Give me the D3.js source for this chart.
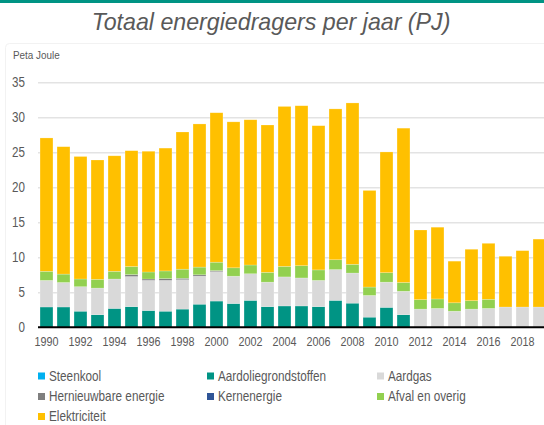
<!DOCTYPE html>
<html><head><meta charset="utf-8">
<script src="https://cdn.jsdelivr.net/npm/d3@7"></script>
<style>
body{margin:0;background:#fff;}
svg{display:block;}
</style></head>
<body><svg id="c" width="544" height="425"></svg>
<script>
const years = d3.range(1990, 2020).map(String);
const xTickLabels = ["1990","1992","1994","1996","1998","2000","2002","2004","2006","2008","2010","2012","2014","2016","2018"];
const yTicks = [0,5,10,15,20,25,30,35];
const seriesNames = ["Steenkool","Aardoliegrondstoffen","Aardgas","Hernieuwbare energie","Kernenergie","Afval en overig","Elektriciteit"];
const seriesColors = ["#00b0f0","#009484","#d9d9d9","#7f7f7f","#2f5597","#92d050","#ffc000"];
const steenkool = new Array(30).fill(0);
const aardolie = [2.9,2.9,2.3,1.8,2.7,2.95,2.4,2.3,2.6,3.3,3.75,3.4,3.85,2.95,3.05,3.05,2.95,3.85,3.45,1.45,2.85,1.8,0,0,0,0,0,0,0,0];
const aardgas = [3.8,3.5,3.5,3.8,4.2,4.3,4.3,4.4,4.2,4.0,4.2,3.9,3.8,3.5,4.15,4.0,3.75,4.4,4.3,3.1,3.6,3.35,2.6,2.7,2.3,2.6,2.7,2.9,2.9,2.9];
const hernieuwbaar = [0,0,0,0,0,0.28,0.2,0.25,0.2,0.2,0.15,0,0,0,0,0,0,0,0,0,0,0,0,0,0,0,0,0,0,0];
const kernenergie = new Array(30).fill(0);
const afval = [1.3,1.2,1.1,1.25,1.1,1.15,1.0,1.1,1.3,1.1,1.2,1.2,1.25,1.4,1.5,1.75,1.5,1.4,1.25,1.2,1.35,1.25,1.35,1.35,1.2,1.2,1.3,0,0,0];
const elektriciteit = [19.05,18.2,17.5,17.05,16.5,16.55,17.25,17.55,19.6,20.45,21.35,20.85,20.75,21.05,22.85,22.85,20.6,21.55,23.05,13.8,17.25,22.05,9.95,10.25,5.95,7.35,8.0,7.25,8.05,9.7];

const seriesValues = [steenkool, aardolie, aardgas, hernieuwbaar, kernenergie, afval, elektriciteit];
const table = years.map((yr,i)=>{const o={year:yr}; seriesNames.forEach((n,k)=>o[n]=seriesValues[k][i]); return o;});
const stacked = d3.stack().keys(seriesNames)(table);

const svg = d3.select("#c");
const font = "'Liberation Sans',Arial,sans-serif";
const textCol = "#595959";
const SX = 0.83; // condensed look

// top band
svg.append("rect").attr("x",0).attr("y",0).attr("width",544).attr("height",3).attr("fill","#009484");
// faint frame
svg.append("rect").attr("x",5.5).attr("y",43.5).attr("width",560).attr("height",400).attr("rx",4)
  .attr("fill","none").attr("stroke","#f2f2f2").attr("stroke-width",1);

svg.append("text").attr("x",271).attr("y",30).attr("text-anchor","middle")
  .attr("font-family",font).attr("font-style","italic")
  .attr("font-size",23.2).attr("fill","#595959").text("Totaal energiedragers per jaar (PJ)");

svg.append("text").attr("transform","translate(13,59) scale(0.9,1)").attr("font-family",font).attr("font-size",11)
  .attr("fill",textCol).text("Peta Joule");

const x = d3.scaleBand().domain(years).range([38,548]).paddingInner(0.24).paddingOuter(0.12);
const y = d3.scaleLinear().domain([0,35]).range([327.3,82.3]);

// grid
const yAxis = d3.axisLeft(y).tickValues(yTicks).tickSize(-(544-38)).tickFormat(d3.format("d"));
const gy = svg.append("g").attr("transform","translate(38,0)").call(yAxis);
gy.select(".domain").remove();
gy.selectAll(".tick line").attr("stroke","#e3e3e3").attr("stroke-width",1.5);
gy.selectAll(".tick text").attr("x",-13/SX).attr("transform",`scale(${SX},1)`)
  .attr("font-family",font).attr("font-size",14).attr("fill",textCol);
gy.selectAll(".tick").filter(d=>d===0).select("line").remove();

// bars
const gBars = svg.append("g");
stacked.forEach((s,k)=>{
  gBars.selectAll(null).data(s.filter(d=>d[1]-d[0]>0)).enter().append("rect")
    .attr("x",d=>x(d.data.year)).attr("width",x.bandwidth())
    .attr("y",d=>y(d[1])).attr("height",d=>y(d[0])-y(d[1]))
    .attr("fill",seriesColors[k]).attr("stroke","#ffffff").attr("stroke-opacity",0.35).attr("stroke-width",0.6);
});

// x axis
const xAxis = d3.axisBottom(x).tickValues(xTickLabels).tickSize(0).tickPadding(9);
const gx = svg.append("g").attr("transform","translate(0,327.3)").call(xAxis);
gx.select(".domain").remove();
gx.selectAll(".tick text").attr("transform",`scale(${SX},1)`)
  .attr("font-family",font).attr("font-size",13).attr("fill",textCol);
svg.append("line").attr("x1",38).attr("x2",544).attr("y1",y(0)).attr("y2",y(0)).attr("stroke","#000").attr("stroke-width",2);

// legend
const legCols = [38,207,377];
const legRows = [376,396.5,416.5];
const leg = svg.append("g");
seriesNames.forEach((n,i)=>{
  const cx = legCols[i%3], cy = legRows[Math.floor(i/3)];
  leg.append("rect").attr("x",cx).attr("y",cy-3.5).attr("width",7).attr("height",7).attr("fill",seriesColors[i]);
  leg.append("text").attr("transform",`translate(${cx+11},${cy+4.8}) scale(0.84,1)`)
    .attr("font-family",font).attr("font-size",14).attr("fill",textCol).text(n);
});
</script></body></html>
